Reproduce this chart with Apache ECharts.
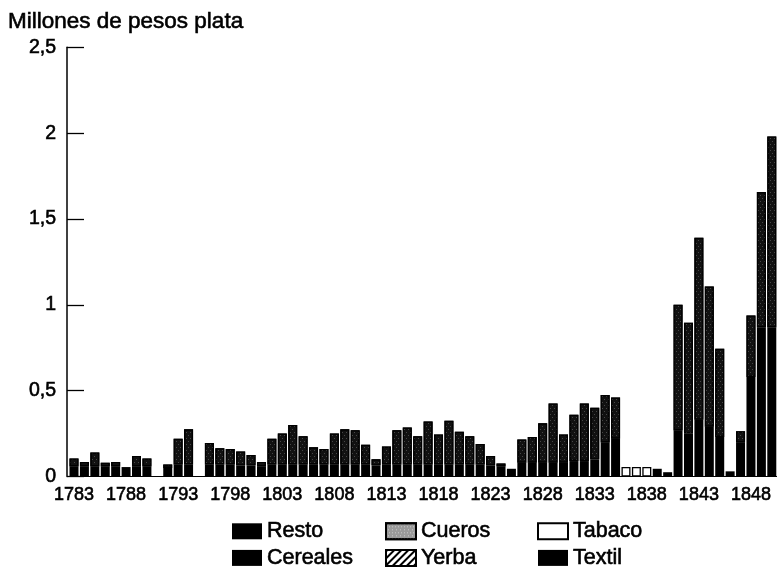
<!DOCTYPE html>
<html>
<head>
<meta charset="utf-8">
<script src="https://cdn.jsdelivr.net/npm/echarts@6/dist/echarts.min.js"></script>
<style>
html,body{margin:0;padding:0;background:#fff;}
#chart{width:777px;height:571px;}
</style>
</head>
<body>
<div id="chart"></div>
<script>
// Years 1783 .. 1850
const years = [];
for (let y = 1783; y <= 1850; y++) years.push(String(y));

// Values in millions of pesos plata
const resto = [
  0.06, 0.06, 0.06, 0.06, 0.06, 0.055, 0.06, 0.06, null, 0.05,   // 1783-1792
  0.07, 0.07, null, 0.07, 0.07, 0.07, 0.065, 0.065, 0.06, 0.07,  // 1793-1802
  0.07, 0.07, 0.07, 0.07, 0.07, 0.07, 0.07, 0.07, 0.07, 0.065,   // 1803-1812
  0.07, 0.07, 0.07, 0.07, 0.07, 0.07, 0.07, 0.07, 0.07, 0.07,    // 1813-1822
  0.065, 0.06, 0.045, 0.08, 0.08, 0.08, 0.08, 0.08, 0.09, 0.09,  // 1823-1832
  0.1, 0.2, 0.22, null, null, null, 0.045, 0.025, 0.27, 0.25,    // 1833-1842
  0.33, 0.29, 0.23, 0.03, 0.2, 0.58, 0.87, 0.87                  // 1843-1850
];
const cereales = [
  null, null, null, null, null, null, null, null, null, null,
  null, null, null, null, null, null, null, null, null, null,
  null, null, null, null, null, null, null, null, null, null,
  null, null, null, null, null, null, null, null, null, null,
  null, null, null, null, null, null, null, null, null, null,
  null, null, null, null, null, null, null, null, null, null,
  null, null, null, null, null, null, null, null
];
const yerba = [
  null, null, null, null, null, null, null, null, null, null,
  null, null, null, null, null, null, null, null, null, null,
  null, null, null, null, null, null, null, null, null, null,
  null, null, null, null, null, null, null, null, null, null,
  null, null, null, null, null, null, null, null, null, null,
  null, null, null, null, null, null, null, null, null, null,
  null, null, null, null, null, null, null, null
];
const tabaco = [
  null, null, null, null, null, null, null, null, null, null,
  null, null, null, null, null, null, null, null, null, null,
  null, null, null, null, null, null, null, null, null, null,
  null, null, null, null, null, null, null, null, null, null,
  null, null, null, null, null, null, null, null, null, null,
  null, null, null, 0.055, 0.055, 0.055, null, null, null, null,
  null, null, null, null, null, null, null, null
];
const textil = [
  null, null, null, null, null, null, null, null, null, null,
  null, null, null, null, null, null, null, null, null, null,
  null, null, null, null, null, null, null, null, null, null,
  null, null, null, null, null, null, null, null, null, null,
  null, null, null, null, null, null, null, null, null, null,
  null, null, null, null, null, null, null, null, null, null,
  null, null, null, null, null, null, null, null
];
const cueros = [
  0.045, 0.025, 0.08, 0.02, 0.025, null, 0.06, 0.045, null, 0.02,  // 1783-1792
  0.15, 0.205, null, 0.125, 0.095, 0.09, 0.08, 0.06, 0.025, 0.15,  // 1793-1802
  0.18, 0.23, 0.165, 0.10, 0.09, 0.18, 0.205, 0.20, 0.115, 0.035,  // 1803-1812
  0.105, 0.20, 0.215, 0.165, 0.25, 0.175, 0.255, 0.19, 0.165, 0.12,// 1813-1822
  0.055, 0.015, null, 0.135, 0.15, 0.23, 0.345, 0.165, 0.27, 0.335,// 1823-1832
  0.30, 0.275, 0.24, null, null, null, null, null, 0.73, 0.645,    // 1833-1842
  1.06, 0.817, 0.514, null, 0.064, 0.358, 0.787, 1.11              // 1843-1850
];

const yTicks = [0, 0.5, 1, 1.5, 2, 2.5];
const yTitle = 'Millones de pesos plata';

const FONT = '"Liberation Sans", Arial, Helvetica, sans-serif';
const THICK = {textBorderColor: '#000', textBorderWidth: 0.6};

const chart = echarts.init(document.getElementById('chart'), null, {renderer: 'canvas'});

const cuerosDecal = {
  symbol: 'rect',
  symbolSize: 0.7,
  color: 'rgba(255,255,255,0.65)',
  dashArrayX: [[1, 3], [0, 2, 1, 1]],
  dashArrayY: [1, 2],
  rotation: 0
};
const yerbaDecal = {
  symbol: 'rect',
  symbolSize: 1,
  color: '#000',
  dashArrayX: [1, 0],
  dashArrayY: [1.5, 2.5],
  rotation: -Math.PI / 4
};

function bar(name, data, itemStyle) {
  return {
    name: name,
    type: 'bar',
    stack: 'total',
    data: data,
    barWidth: 9,
    itemStyle: itemStyle,
    emphasis: {disabled: true},
    animation: false
  };
}

const legendText = Object.assign({fontSize: 21.5, color: '#000', fontFamily: FONT, lineHeight: 22}, THICK);
function legendCol(left, names) {
  return {
    orient: 'vertical',
    left: left,
    top: 520,
    padding: 0,
    itemGap: 4,
    itemWidth: 30,
    itemHeight: 16,
    icon: 'rect',
    selectedMode: false,
    textStyle: legendText,
    data: names
  };
}

chart.setOption({
  animation: false,
  backgroundColor: '#fff',
  title: {
    text: yTitle,
    left: 8,
    top: 10,
    padding: 0,
    textStyle: Object.assign({fontSize: 22.5, fontWeight: 'normal', color: '#000', fontFamily: FONT}, THICK)
  },
  legend: [
    legendCol(232, ['Resto', 'Cereales']),
    legendCol(385, [
      {name: 'Cueros', itemStyle: {color: '#9a9a9a', decal: {symbol: 'rect', symbolSize: 0.8, color: 'rgba(255,255,255,0.6)', dashArrayX: [[1, 2], [0, 1.5, 1, 0.5]], dashArrayY: [1, 1.5]}}},
      'Yerba'
    ]),
    legendCol(537, ['Tabaco', 'Textil'])
  ],
  grid: {
    left: 68.8,
    top: 47.3,
    width: 712,
    height: 429.2,
    containLabel: false
  },
  xAxis: {
    type: 'category',
    data: years,
    boundaryGap: true,
    axisLine: {show: true, lineStyle: {color: '#000', width: 1}},
    axisTick: {show: false},
    axisLabel: Object.assign({
      interval: function (i) { return i % 5 === 0; },
      fontSize: 18,
      color: '#000',
      fontFamily: FONT,
      margin: 10
    }, THICK),
    splitLine: {show: false}
  },
  yAxis: {
    type: 'value',
    min: 0,
    max: 2.5,
    interval: 0.5,
    offset: 1.8,
    axisLine: {show: true, lineStyle: {color: '#000', width: 1.5}},
    axisTick: {show: true, inside: true, length: 17, lineStyle: {color: '#000', width: 1.3}},
    axisLabel: Object.assign({
      formatter: function (v) { return yTicks.indexOf(v) >= 0 ? String(v).replace('.', ',') : ''; },
      fontSize: 19.5,
      color: '#000',
      fontFamily: FONT,
      margin: 11
    }, THICK),
    splitLine: {show: false}
  },
  series: [
    bar('Resto', resto, {color: '#000'}),
    bar('Cereales', cereales, {color: '#000'}),
    bar('Textil', textil, {color: '#000'}),
    bar('Tabaco', tabaco, {color: '#fff', borderColor: '#000', borderWidth: 1.3}),
    bar('Yerba', yerba, {color: '#fff', borderColor: '#000', borderWidth: 1, decal: yerbaDecal}),
    bar('Cueros', cueros, {color: '#111', borderColor: '#000', borderWidth: 1.2, decal: cuerosDecal})
  ]
});
</script>
</body>
</html>
